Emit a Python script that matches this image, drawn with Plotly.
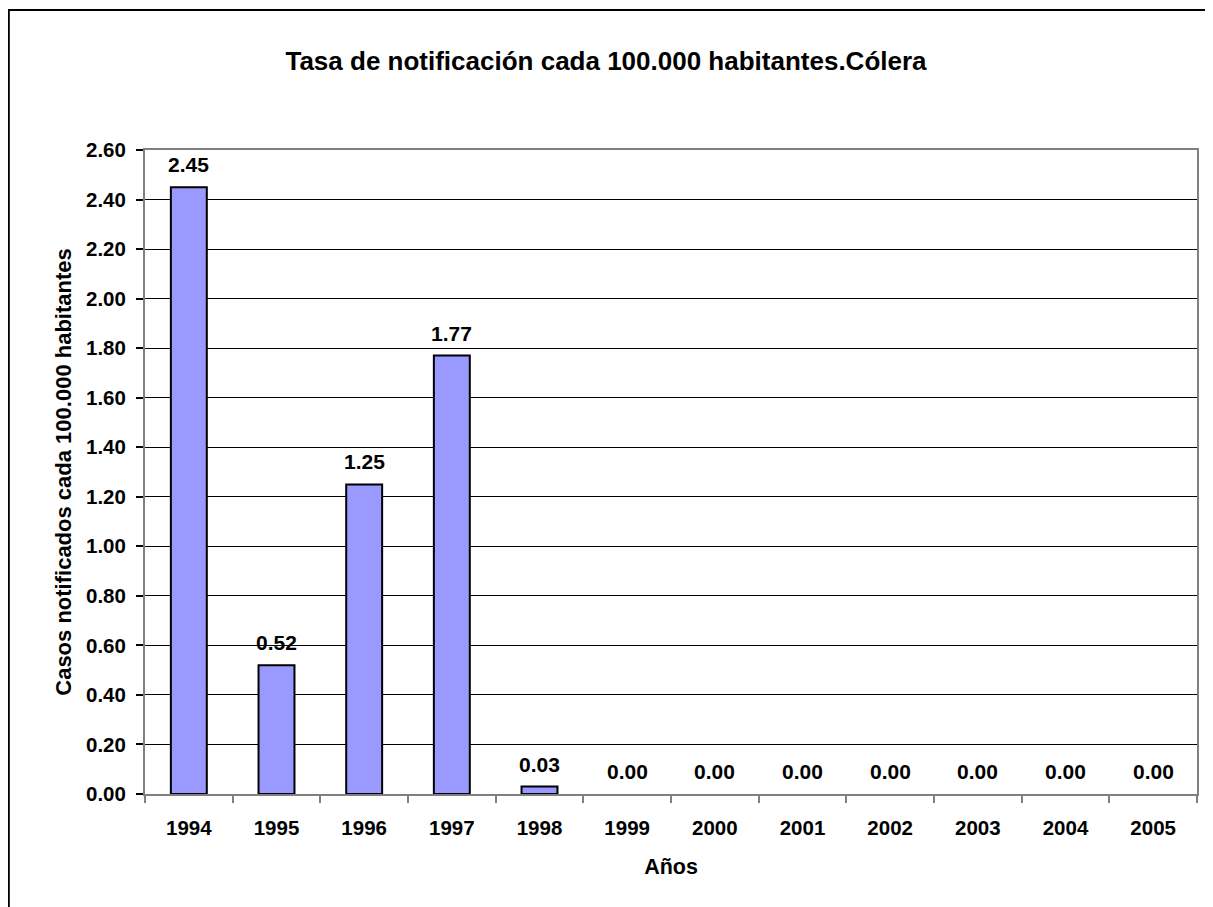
import plotly.graph_objects as go

years = ["1994", "1995", "1996", "1997", "1998", "1999", "2000", "2001", "2002", "2003", "2004", "2005"]
rates = [2.45, 0.52, 1.25, 1.77, 0.03, 0.0, 0.0, 0.0, 0.0, 0.0, 0.0, 0.0]
y_ticks = [0.0, 0.2, 0.4, 0.6, 0.8, 1.0, 1.2, 1.4, 1.6, 1.8, 2.0, 2.2, 2.4, 2.6]

FONT = "Liberation Sans, Arial, sans-serif"
# page has an 8px body margin; figure fills the rest of the 1213x907 window
W, H = 1205, 899
L, R, T, B = 137, 16, 142, 113
pw, ph = W - L - R, H - T - B

fig = go.Figure(go.Bar(
    x=years, y=rates,
    marker=dict(color="#9999FF",
                line=dict(color="black", width=[2 if v > 0 else 0 for v in rates])),
    width=0.41,
    hoverinfo="x+y",
))

# value labels above bars (category axis: annotation x uses the category serial index)
for i, v in enumerate(rates):
    fig.add_annotation(x=i, y=v, xref="x", yref="y", text=f"<b>{v:.2f}</b>",
                       showarrow=False, yanchor="bottom", yshift=9,
                       font=dict(family=FONT, size=21, color="black"))

fig.update_layout(
    width=W, height=H,
    margin=dict(l=L, r=R, t=T, b=B),
    paper_bgcolor="white", plot_bgcolor="white",
    showlegend=False,
    title=dict(text="<b>Tasa de notificación cada 100.000 habitantes.Cólera</b>",
               x=(606 - 8) / W, xref="container", xanchor="center",
               y=1 - 53 / H, yref="container", yanchor="middle",
               font=dict(family=FONT, size=26, color="black")),
    xaxis=dict(type="category", categoryorder="array", categoryarray=years,
               tickson="boundaries", ticks="outside", ticklen=7,
               tickcolor="#808080", tickwidth=1.5,
               showline=True, linecolor="#808080", linewidth=2, mirror=True,
               showgrid=False,
               tickfont=dict(family=FONT, size=20.5, color="black"),
               tickprefix="<b>", ticksuffix="</b>",
               ticklabelstandoff=14,
               title=dict(text="<b>Años</b>", font=dict(family=FONT, size=21.5, color="black"),
                          standoff=21)),
    yaxis=dict(range=[0, 2.6], tickvals=y_ticks, ticktext=[f"<b>{v:.2f}</b>" for v in y_ticks],
               ticks="outside", ticklen=7, tickcolor="black", tickwidth=1.5,
               showline=True, linecolor="#808080", linewidth=2, mirror=True,
               showgrid=True, gridcolor="black", gridwidth=1.2, zeroline=False,
               tickfont=dict(family=FONT, size=20.5, color="black"),
               ticklabelstandoff=6,
               title=dict(text="<b>Casos notificados cada 100.000 habitantes</b>",
                          font=dict(family=FONT, size=22, color="black"), standoff=8)),
)

# outer chart-area border (extends past right/bottom edges like the reference)
fig.add_shape(type="rect", xref="paper", yref="paper",
              x0=(0.8 - L) / pw, x1=(W + 20 - L) / pw,
              y0=(H - B - (H + 20)) / ph, y1=(H - B - 2) / ph,
              line=dict(color="black", width=2), fillcolor="rgba(0,0,0,0)", layer="below")

fig.write_html("out.html")
